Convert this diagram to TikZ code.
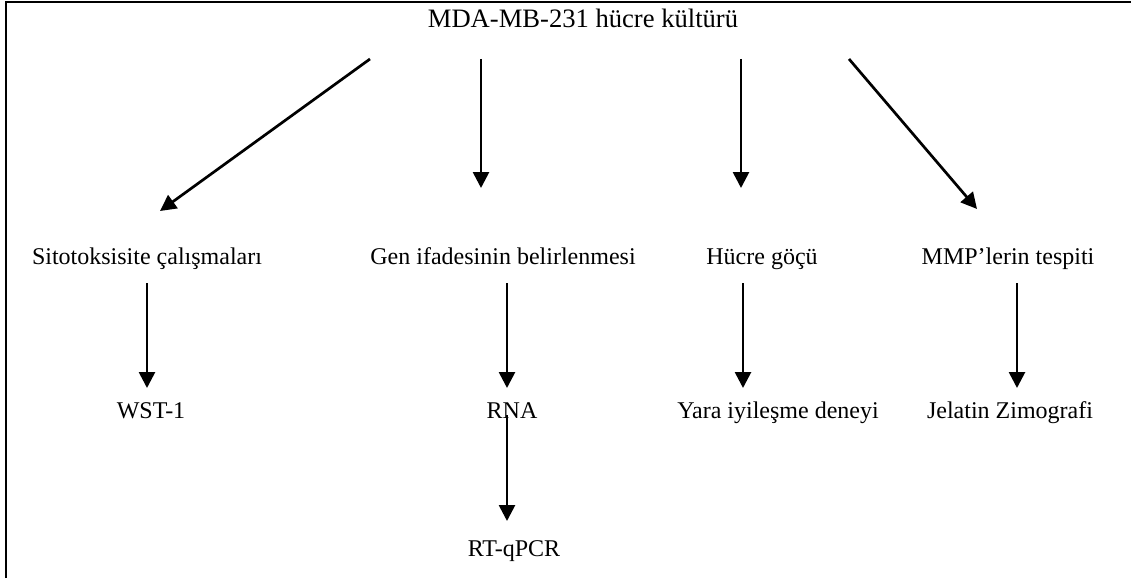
\documentclass[tikz,border=0pt]{standalone}
\usepackage{fontspec}
\setmainfont{Liberation Serif}
\usetikzlibrary{arrows.meta}
\begin{document}
\begin{tikzpicture}[x=1pt,y=-1pt,
  lbl/.style={anchor=base,inner sep=0pt,font=\fontsize{24}{28}\selectfont},
  ttl/.style={lbl,font=\fontsize{26.6}{30}\selectfont},
  arr/.style={line width=2.7pt,-{Triangle[length=16pt,width=16pt]}},
  frame/.style={line width=2.6pt}]
\useasboundingbox (0,0) rectangle (1131,578);
\draw[frame] (6,578) -- (6,2) -- (1131,2);
% texts
\node[ttl] (title) at (583,28) {MDA-MB-231 hücre kültürü};
\node[lbl] (sito) at (147,264) {Sitotoksisite çalışmaları};
\node[lbl] (gen) at (503,264) {Gen ifadesinin belirlenmesi};
\node[lbl] (goc) at (762,264) {Hücre göçü};
\node[lbl] (mmp) at (1008,264) {MMP’lerin tespiti};
\node[lbl] (wst) at (151,418) {WST-1};
\node[lbl] (rna) at (512,418) {RNA};
\node[lbl] (yara) at (778,418) {Yara iyileşme deneyi};
\node[lbl] (jel) at (1010,418) {Jelatin Zimografi};
\node[lbl] (rt) at (514,556) {RT-qPCR};
% arrow endpoints
\coordinate (t1) at (370,59);  \coordinate (e1) at (160,211);
\coordinate (t2) at (481,59);  \coordinate (e2) at (481,188);
\coordinate (t3) at (741,59);  \coordinate (e3) at (741,188);
\coordinate (t4) at (849,59);  \coordinate (e4) at (977,209);
\coordinate (s1) at (147,283); \coordinate (w1) at (147,388);
\coordinate (s2) at (507,283); \coordinate (w2) at (507,388);
\coordinate (s3) at (743,283); \coordinate (w3) at (743,388);
\coordinate (s4) at (1017,283); \coordinate (w4) at (1017,388);
\coordinate (r1) at (507,415); \coordinate (r2) at (507,521);
% arrows
\draw[arr] (t1) -- (e1);
\draw[arr] (t2) -- (e2);
\draw[arr] (t3) -- (e3);
\draw[arr] (t4) -- (e4);
\draw[arr] (s1) -- (w1);
\draw[arr] (s2) -- (w2);
\draw[arr] (s3) -- (w3);
\draw[arr] (s4) -- (w4);
\draw[arr] (r1) -- (r2);
\end{tikzpicture}
\end{document}
